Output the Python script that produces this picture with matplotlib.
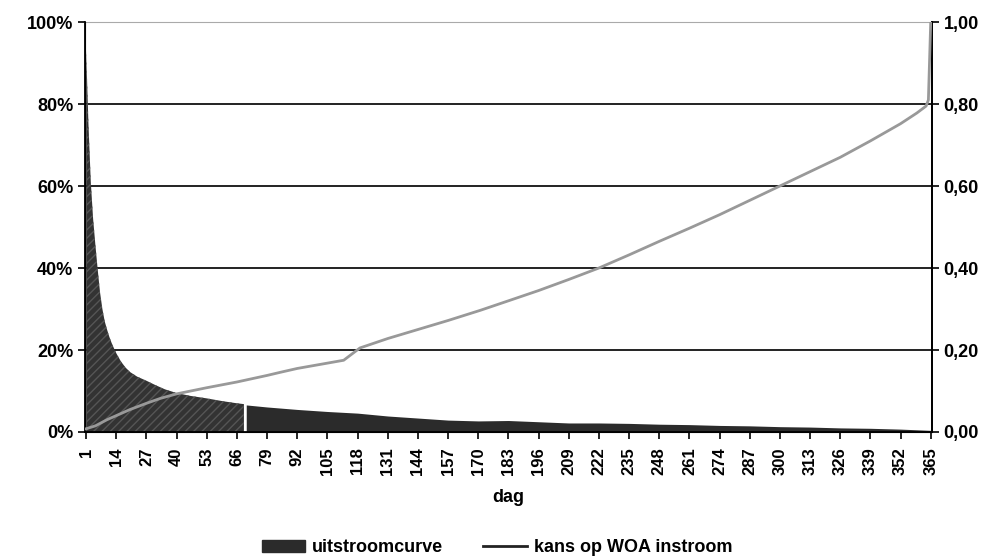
import matplotlib
matplotlib.use("Agg")
import matplotlib.pyplot as plt
from matplotlib.patches import Patch
from matplotlib.lines import Line2D
from matplotlib.ticker import FuncFormatter

plt.rcParams["font.family"] = ["Liberation Sans", "DejaVu Sans"]

# uitstroomcurve (% per day)
out_days = [1, 2, 3, 4, 5, 6, 7, 8, 9, 10, 11, 12, 13, 14, 16, 18, 20, 23, 27, 31, 35,
            40, 46, 53, 60, 66, 69]
out_vals = [93, 75, 61, 52, 45.5, 39.5, 34, 30, 27, 25, 23.2, 21.7, 20.4, 19.2, 17.2,
            15.7, 14.6, 13.5, 12.5, 11.4, 10.4, 9.5, 8.8, 8.2, 7.5, 7.0, 6.8]
out_days2 = [70, 79, 92, 105, 118, 131, 144, 157, 170, 183, 196, 209, 222, 235, 248, 261,
             274, 287, 300, 313, 326, 339, 352, 365]
out_vals2 = [6.6, 6.1, 5.5, 5.0, 4.6, 3.9, 3.4, 2.9, 2.7, 2.8, 2.5, 2.2, 2.2, 2.1, 1.9,
             1.8, 1.6, 1.5, 1.3, 1.2, 1.0, 0.9, 0.7, 0.4]

# kans op WOA instroom (right axis)
kans_days = [1, 5, 10, 14, 20, 27, 33, 40, 53, 66, 79, 85, 92, 105, 112, 119, 131, 144,
             157, 171, 183, 196, 209, 222, 235, 248, 261, 274, 287, 300, 313, 326, 339,
             352, 359, 363, 364, 365]
kans_vals = [0.008, 0.015, 0.03, 0.04, 0.055, 0.07, 0.082, 0.093, 0.108, 0.122, 0.138,
             0.146, 0.155, 0.168, 0.175, 0.205, 0.228, 0.25, 0.272, 0.297, 0.32, 0.345,
             0.372, 0.40, 0.432, 0.465, 0.497, 0.53, 0.565, 0.60, 0.635, 0.67, 0.71,
             0.752, 0.778, 0.795, 0.81, 1.00]

tick_days = list(range(1, 366, 13))

fig = plt.figure(figsize=(9.94, 5.59), dpi=100)
ax = fig.add_axes([0.0855, 0.2272, 0.852, 0.7334])

ax.fill_between(out_days, out_vals, 0, color="#333333", lw=0, hatch="////",
                edgecolor="#555555", zorder=2)
ax.fill_between(out_days2, out_vals2, 0, color="#2b2b2b", lw=0, zorder=2)

ax.set_xlim(0.5, 365.5)
ax.set_ylim(0, 100)
ax.set_yticks([0, 20, 40, 60, 80, 100])
ax.yaxis.set_major_formatter(FuncFormatter(lambda v, p: f"{v:.0f}%"))
for g in [20, 40, 60, 80]:
    ax.axhline(g, color="#111111", lw=1.3, zorder=1)
ax.set_xticks(tick_days)
ax.set_xticklabels([str(d) for d in tick_days], rotation=90, fontsize=12, fontweight="bold")
ax.tick_params(axis="y", labelsize=13, length=5, width=1.2)
ax.tick_params(axis="x", length=5, width=1.2, pad=6)
for lab in ax.get_yticklabels():
    lab.set_fontweight("bold")
ax.spines["top"].set_color("#aaaaaa")
for s in ["left", "bottom", "right"]:
    ax.spines[s].set_linewidth(1.3)
ax.set_xlabel("dag", fontsize=13, fontweight="bold", labelpad=10)

ax2 = ax.twinx()
ax2.plot(kans_days, kans_vals, color="#999999", lw=2, zorder=3)
ax2.set_ylim(0, 1)
ax2.set_yticks([0, 0.2, 0.4, 0.6, 0.8, 1.0])
ax2.yaxis.set_major_formatter(FuncFormatter(lambda v, p: f"{v:.2f}".replace(".", ",")))
ax2.tick_params(axis="y", labelsize=13, length=5, width=1.2)
for lab in ax2.get_yticklabels():
    lab.set_fontweight("bold")
ax2.spines["top"].set_visible(False)
ax2.spines["right"].set_linewidth(1.3)

handles = [Patch(facecolor="#2b2b2b", edgecolor="#2b2b2b"),
           Line2D([0], [0], color="#222222", lw=2)]
leg = fig.legend(handles, ["uitstroomcurve", "kans op WOA instroom"], loc="center",
                 bbox_to_anchor=(0.5, 0.02), ncol=2, frameon=False,
                 prop={"size": 13, "weight": "bold"},
                 handlelength=2.4, columnspacing=2.2, handletextpad=0.4)

fig.savefig("out.png", dpi=100)
